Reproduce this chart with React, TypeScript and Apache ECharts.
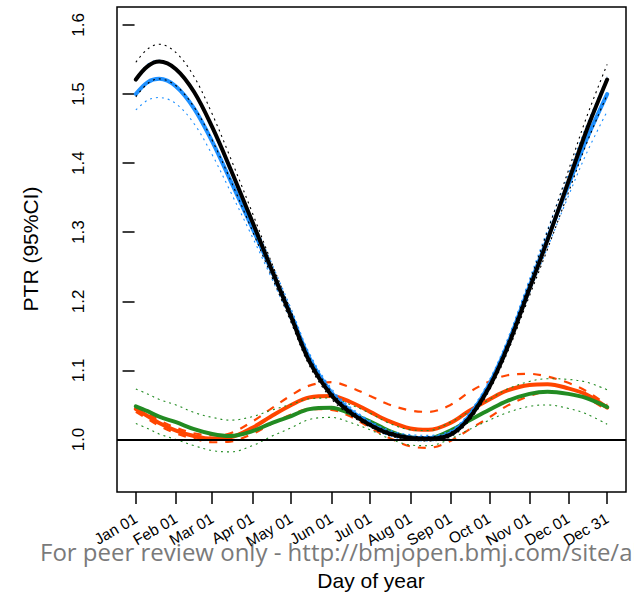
import React, { useEffect, useRef } from "react";
import * as echarts from "echarts";

const days = [1, 10, 19, 32, 46, 60, 74, 91, 105, 121, 135, 152, 166, 182, 196, 213, 227, 244, 258, 274, 288, 305, 319, 335, 349, 365];

const blackMain = [1.521, 1.540, 1.547, 1.536, 1.503, 1.452, 1.392, 1.315, 1.250, 1.177, 1.113, 1.064, 1.040, 1.021, 1.009, 1.002, 1.001, 1.007, 1.030, 1.076, 1.133, 1.218, 1.289, 1.373, 1.447, 1.521];
const blackHW = [0.025, 0.025, 0.025, 0.024, 0.022, 0.019, 0.016, 0.013, 0.010, 0.008, 0.006, 0.005, 0.004, 0.003, 0.003, 0.003, 0.003, 0.003, 0.004, 0.005, 0.007, 0.010, 0.013, 0.016, 0.019, 0.022];

const blueMain = [1.500, 1.517, 1.522, 1.511, 1.479, 1.431, 1.375, 1.306, 1.248, 1.180, 1.118, 1.068, 1.043, 1.023, 1.010, 1.003, 1.002, 1.009, 1.033, 1.080, 1.137, 1.222, 1.291, 1.368, 1.434, 1.500];
const blueHW = [0.023, 0.026, 0.027, 0.025, 0.022, 0.019, 0.016, 0.013, 0.011, 0.009, 0.007, 0.006, 0.005, 0.004, 0.004, 0.004, 0.004, 0.004, 0.005, 0.006, 0.008, 0.010, 0.013, 0.016, 0.020, 0.025];

const orangeMain = [1.044, 1.034, 1.024, 1.013, 1.005, 1.001, 1.003, 1.017, 1.033, 1.050, 1.061, 1.063, 1.055, 1.040, 1.027, 1.016, 1.014, 1.024, 1.041, 1.058, 1.071, 1.079, 1.080, 1.074, 1.065, 1.046];
const orangeHW = [0.004, 0.004, 0.004, 0.004, 0.004, 0.005, 0.006, 0.009, 0.011, 0.014, 0.017, 0.020, 0.021, 0.023, 0.024, 0.026, 0.026, 0.026, 0.027, 0.026, 0.022, 0.016, 0.011, 0.008, 0.005, 0.004];

const greenMain = [1.048, 1.041, 1.033, 1.025, 1.015, 1.008, 1.005, 1.012, 1.023, 1.034, 1.044, 1.046, 1.038, 1.026, 1.013, 1.003, 1.002, 1.013, 1.027, 1.043, 1.056, 1.066, 1.069, 1.066, 1.060, 1.047];
const greenHW = [0.025, 0.025, 0.025, 0.025, 0.024, 0.024, 0.023, 0.021, 0.019, 0.017, 0.015, 0.014, 0.013, 0.012, 0.011, 0.011, 0.011, 0.012, 0.013, 0.015, 0.017, 0.018, 0.019, 0.021, 0.023, 0.025];

const tickDays = [1, 32, 60, 91, 121, 152, 182, 213, 244, 274, 305, 335, 365];
const tickLabels = ["Jan 01", "Feb 01", "Mar 01", "Apr 01", "May 01", "Jun 01", "Jul 01", "Aug 01", "Sep 01", "Oct 01", "Nov 01", "Dec 01", "Dec 31"];
const yTicks = [1.0, 1.1, 1.2, 1.3, 1.4, 1.5, 1.6];

const FONT = "'Liberation Sans', Arial, sans-serif";
const SMOOTH = 0.35;

function pts(vals: number[], hw?: number[], sign = 0) {
  return days.map((d, i) => [d, +(vals[i] + (hw ? sign * hw[i] : 0)).toFixed(4)]);
}

function mainLine(name: string, vals: number[], color: string) {
  return {
    name,
    type: "line",
    data: pts(vals),
    smooth: SMOOTH,
    showSymbol: false,
    symbol: "none",
    silent: true,
    lineStyle: { color, width: 4, type: "solid", cap: "round" },
  };
}

function ciLine(name: string, vals: number[], hw: number[], sign: number, color: string, width: number, dash: number[]) {
  return {
    name,
    type: "line",
    data: pts(vals, hw, sign),
    smooth: SMOOTH,
    showSymbol: false,
    symbol: "none",
    silent: true,
    lineStyle: { color, width, type: dash },
  };
}

export default function App() {
  const ref = useRef<HTMLDivElement>(null);
  useEffect(() => {
    document.body.style.margin = "0";
    if (!ref.current) return;
    const chart = echarts.init(ref.current, null, { renderer: "svg" });
    const orange = "#FF4500";
    const green = "#228B22";
    const blue = "#1E90FF";
    const black = "#000000";
    chart.setOption({
      animation: false,
      backgroundColor: "#ffffff",
      grid: {
        left: 117,
        right: 8,
        top: 7,
        bottom: 104,
        show: true,
        borderColor: "#000",
        borderWidth: 1.5,
        containLabel: false,
      },
      xAxis: {
        type: "value",
        min: -13.56,
        max: 379.56,
        splitLine: { show: false },
        axisLine: { show: false },
        axisTick: { show: true, length: 12, lineStyle: { color: "#000", width: 1.5 }, customValues: tickDays },
        axisLabel: {
          customValues: tickDays,
          rotate: 30,
          margin: 25,
          fontSize: 15.5,
          fontFamily: FONT,
          color: "#000",
          formatter: (v: number) => {
            const i = tickDays.indexOf(Math.round(v));
            return i >= 0 ? tickLabels[i] : "";
          },
        },
      },
      yAxis: {
        type: "value",
        min: 0.924,
        max: 1.626,
        splitLine: { show: false },
        axisLine: { show: false },
        axisTick: { show: true, length: 12, lineStyle: { color: "#000", width: 1.5 }, customValues: yTicks },
        axisLabel: {
          customValues: yTicks,
          rotate: 90,
          margin: 30,
          fontSize: 17,
          fontFamily: FONT,
          color: "#000",
          formatter: (v: number) => v.toFixed(1),
        },
      },
      graphic: [
        {
          type: "text",
          x: 30,
          y: 249,
          rotation: Math.PI / 2,
          silent: true,
          style: { text: "PTR (95%CI)", font: `21px ${FONT}`, fill: "#000", align: "center", verticalAlign: "middle" },
        },
        {
          type: "text",
          x: 371,
          y: 580,
          silent: true,
          style: { text: "Day of year", font: `21px ${FONT}`, fill: "#000", align: "center", verticalAlign: "middle" },
        },
        {
          type: "text",
          x: 40,
          y: 551,
          silent: true,
          style: {
            text: "For peer review only - http://bmjopen.bmj.com/site/about/guidelines.xhtml",
            font: "24px 'Open Sans', sans-serif",
            fill: "#7a7a7a",
            align: "left",
            verticalAlign: "middle",
          },
        },
      ],
      series: [
        ciLine("orange-lo", orangeMain, orangeHW, -1, orange, 2.2, [8, 8]),
        ciLine("orange-hi", orangeMain, orangeHW, 1, orange, 2.2, [8, 8]),
        mainLine("orange", orangeMain, orange),
        ciLine("green-lo", greenMain, greenHW, -1, green, 1.1, [2, 4]),
        ciLine("green-hi", greenMain, greenHW, 1, green, 1.1, [2, 4]),
        mainLine("green", greenMain, green),
        ciLine("blue-lo", blueMain, blueHW, -1, blue, 1.1, [2, 4]),
        ciLine("blue-hi", blueMain, blueHW, 1, blue, 1.1, [2, 4]),
        mainLine("blue", blueMain, blue),
        ciLine("black-lo", blackMain, blackHW, -1, black, 1.1, [2, 4]),
        ciLine("black-hi", blackMain, blackHW, 1, black, 1.1, [2, 4]),
        {
          ...mainLine("black", blackMain, black),
          markLine: {
            silent: true,
            symbol: "none",
            label: { show: false },
            lineStyle: { color: "#000", width: 2, type: "solid" },
            data: [{ yAxis: 1.0 }],
          },
        },
      ],
    });
    return () => chart.dispose();
  }, []);
  return <div ref={ref} style={{ width: 634, height: 596 }} />;
}
